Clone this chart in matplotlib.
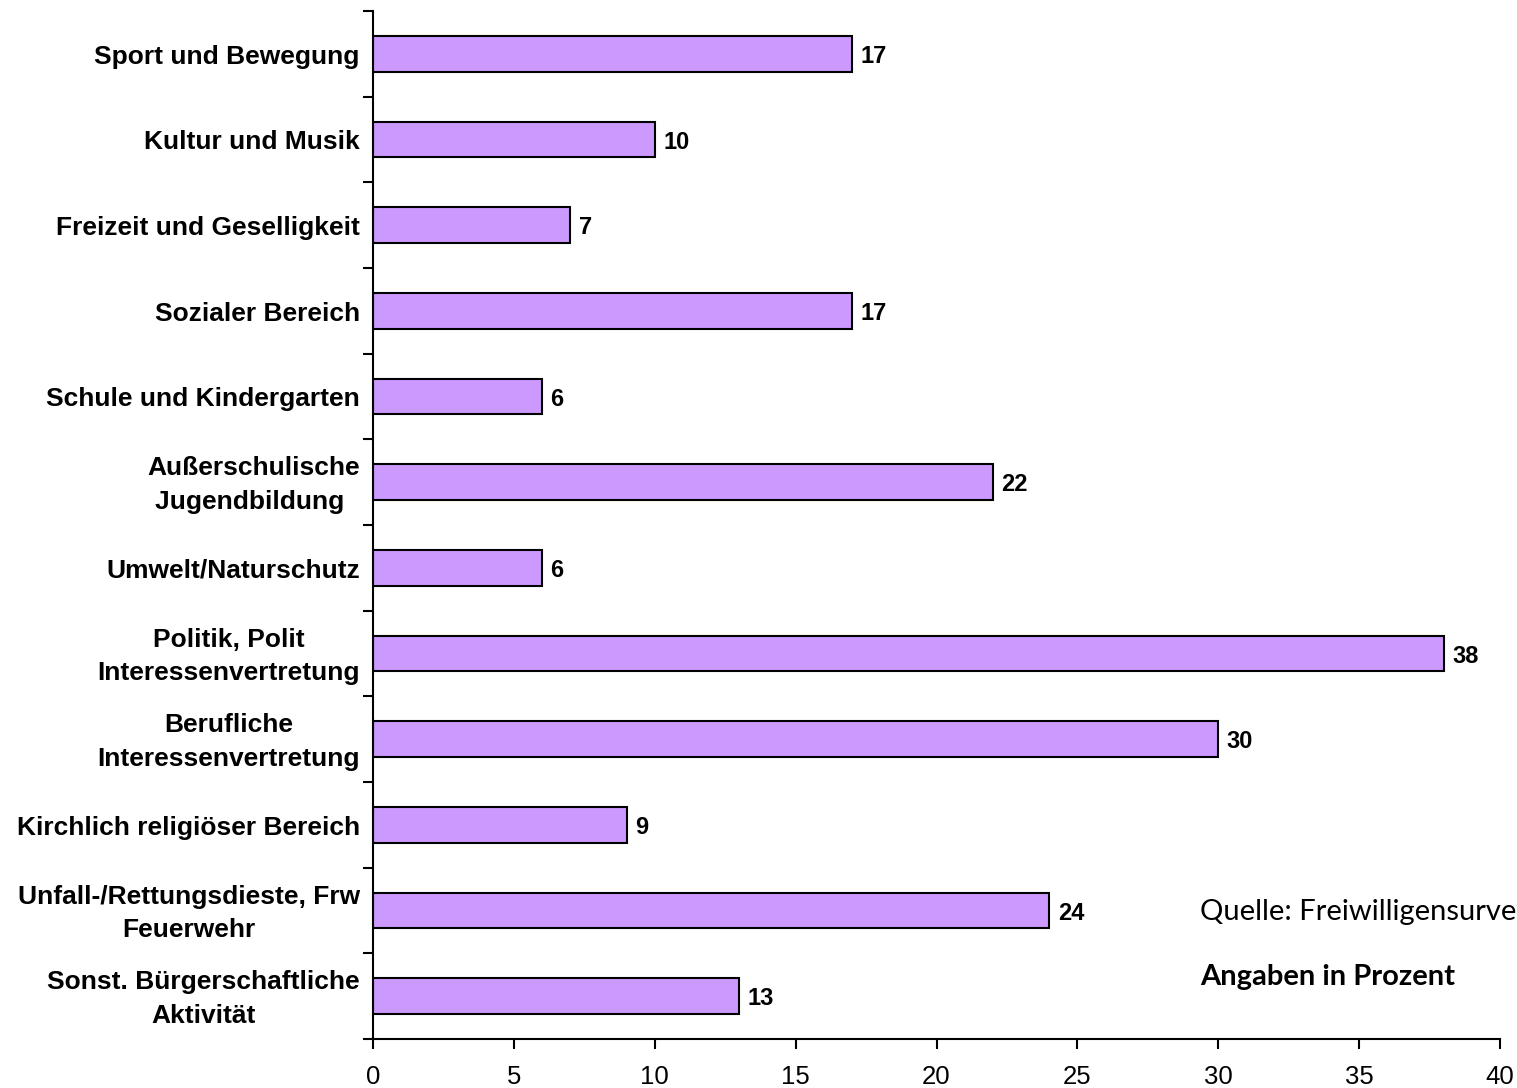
import matplotlib
matplotlib.use("Agg")
import matplotlib.pyplot as plt
from matplotlib.transforms import ScaledTranslation

categories = [
    "Sport und Bewegung",
    "Kultur und Musik",
    "Freizeit und Geselligkeit",
    "Sozialer Bereich",
    "Schule und Kindergarten",
    "Außerschulische\nJugendbildung ",
    "Umwelt/Naturschutz",
    "Politik, Polit\nInteressenvertretung",
    "Berufliche\nInteressenvertretung",
    "Kirchlich religiöser Bereich",
    "Unfall-/Rettungsdieste, Frw\nFeuerwehr",
    "Sonst. Bürgerschaftliche\nAktivität",
]
values = [17, 10, 7, 17, 6, 22, 6, 38, 30, 9, 24, 13]
xticks = [0, 5, 10, 15, 20, 25, 30, 35, 40]

fig = plt.figure(figsize=(15.17, 10.88), dpi=100)
ax = fig.add_axes([373/1517, 49/1088, (1500-373)/1517, (1039-11)/1088])

pos = list(range(len(categories)))
ax.barh(pos, values, height=0.42, color="#CC99FF", edgecolor="black", linewidth=1.5)

for p, v in zip(pos, values):
    ax.text(v + 0.3, p, str(v), va="center_baseline", ha="left", fontsize=17,
            fontweight="bold", family="Liberation Sans")

ax.set_xlim(0, 40)
ax.set_ylim(len(categories) - 0.5, -0.5)
ax.set_xticks(xticks)
ax.set_xticklabels([str(t) for t in xticks], fontsize=18.5, family="Liberation Sans")
ax.set_yticks([i - 0.5 for i in range(len(categories) + 1)])
ax.set_yticklabels([])

for p, lab in zip(pos, categories):
    tr = ax.get_yaxis_transform() + ScaledTranslation(-9.5 / 72, -2.0 / 72, fig.dpi_scale_trans)
    ax.text(0, p, lab, transform=tr, ha="right", va="center", fontsize=19,
            fontweight="bold", family="Liberation Sans", multialignment="center",
            linespacing=1.5, clip_on=False)

ax.tick_params(axis="y", which="major", length=7, width=1.5, direction="out")
ax.tick_params(axis="x", length=7, width=1.5, direction="out", pad=12)

for s in ["top", "right"]:
    ax.spines[s].set_visible(False)
for s in ["left", "bottom"]:
    ax.spines[s].set_linewidth(1.5)

fig.text(1200/1517, 1 - 912/1088, "Quelle: Freiwilligensurvey", fontsize=21,
         family="Lato", va="center", ha="left")
fig.text(1200/1517, 1 - 977/1088, "Angaben in Prozent", fontsize=21,
         family="Lato", fontweight="bold", va="center", ha="left")

fig.savefig("out.png", dpi=100)
